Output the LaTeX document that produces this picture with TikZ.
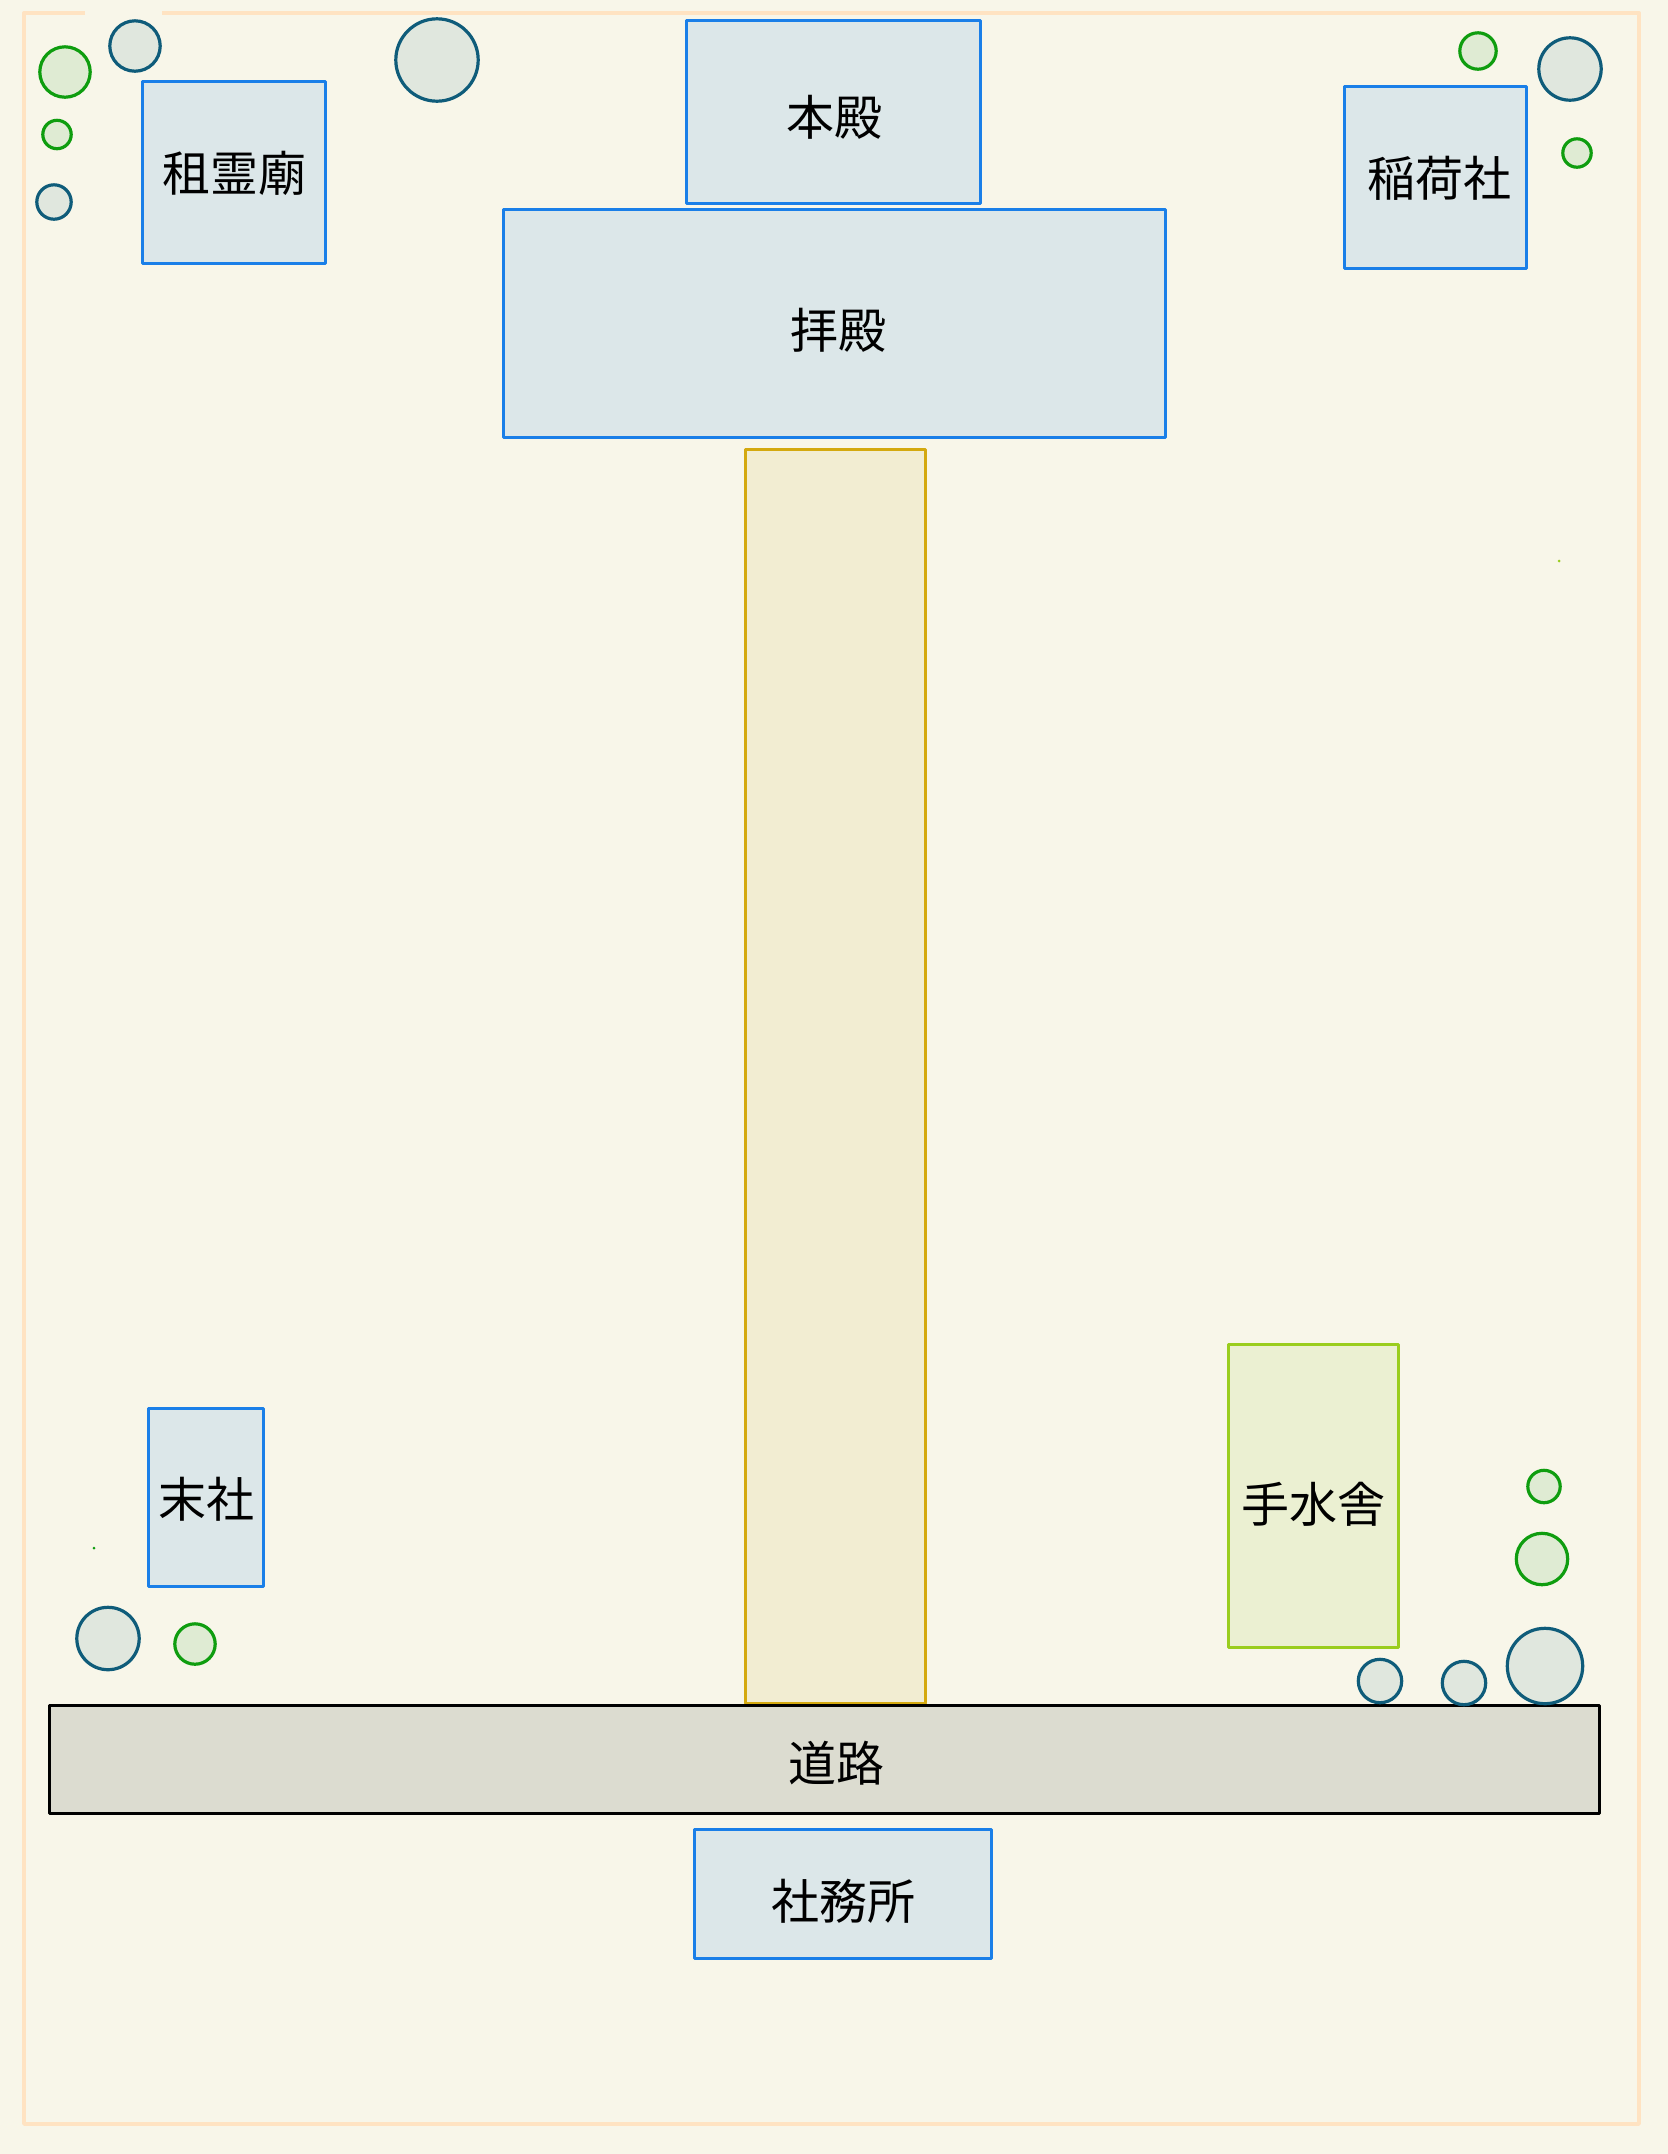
\documentclass[tikz,border=0pt]{standalone}
\usepackage{fontspec}
\setmainfont{Noto Sans CJK JP}
\definecolor{bgc}{HTML}{F8F6E9}
\definecolor{edgec}{HTML}{FFE3C2}
\definecolor{bluec}{HTML}{1A7FE8}
\definecolor{bluef}{HTML}{DCE7E9}
\definecolor{pathc}{HTML}{D4A90F}
\definecolor{pathf}{HTML}{F2EDD2}
\definecolor{limec}{HTML}{9ACD1E}
\definecolor{limef}{HTML}{EBF0D2}
\definecolor{roadf}{HTML}{DCDCD0}
\definecolor{greenc}{HTML}{0F9D0F}
\definecolor{greenf}{HTML}{DFEBD3}
\definecolor{tealc}{HTML}{0F5C7A}
\definecolor{tealf}{HTML}{DCE5DD}
\tikzset{
  x=0.5pt,y=-0.5pt,
  every node/.style={inner sep=0pt,outer sep=0pt},
  blk/.style={rectangle,line width=1.5pt,line join=round},
  hall/.style={blk,draw=bluec,fill=bluef},
  walkway/.style={blk,draw=pathc,fill=pathf},
  basin/.style={blk,draw=limec,fill=limef},
  road/.style={blk,draw=black,fill=roadf},
  lbl/.style={font=\fontsize{24pt}{28pt}\selectfont,text=black},
  treeg/.style={circle,draw=greenc,fill=greenf,line width=1.6pt},
  treet/.style={circle,draw=tealc,fill=tealf,fill opacity=0.85,line width=1.6pt},
}
\newcommand{\boxat}[6]{\node[#2,minimum width=#5*0.5pt,minimum height=#6*0.5pt] (#1) at ({#3+#5/2},{#4+#6/2}) {};}
\newcommand{\treeat}[5]{\node[#2,minimum size=#5*1pt] (#1) at (#3,#4) {};}
\begin{document}
\begin{tikzpicture}
\useasboundingbox (0,0) rectangle (1668,2154);
\fill[bgc] (0,0) rectangle (1668,2154);
\draw[edgec,line width=1.7pt,line join=round] (85,13) -- (24,13) -- (24,2124) -- (1639,2124) -- (1639,13) -- (162,13);
\boxat{walk}{walkway}{745}{449}{180}{1254}
\boxat{haiden}{hall}{503}{209}{662.5}{228}
\boxat{honden}{hall}{686}{20.5}{294.5}{182.8}
\boxat{sorei}{hall}{142.5}{81}{182.5}{182.5}
\boxat{inari}{hall}{1344}{86}{182.5}{182.5}
\boxat{massha}{hall}{148}{1408}{115.5}{178.5}
\boxat{chozu}{basin}{1228.8}{1344.5}{170}{303}
\boxat{doro}{road}{49.8}{1705.8}{1550}{107.7}
\boxat{shamusho}{hall}{694.8}{1829}{297}{129.5}
\node[lbl] (thonden) at (834,117.5) {本殿};
\node[lbl] (thaiden) at (838.5,330) {拝殿};
\node[lbl] (tsorei) at (234,173) {租霊廟};
\node[lbl] (tinari) at (1439.5,178.5) {稲荷社};
\node[lbl] (tmassha) at (206,1499.5) {末社};
\node[lbl] (tchozu) at (1313,1504.5) {手水舎};
\node[lbl] (tdoro) at (836,1763.5) {道路};
\node[lbl] (tshamusho) at (843,1901) {社務所};
\treeat{a1}{treeg}{65}{72}{25.2}
\treeat{a2}{treet}{135}{46}{25.2}
\treeat{a3}{treet}{437}{60}{41.2}
\treeat{a4}{treeg}{57}{134.5}{14.2}
\treeat{a5}{treet}{54}{202}{17.2}
\treeat{b1}{treeg}{1478}{51}{18.2}
\treeat{b2}{treet}{1570}{69}{31.2}
\treeat{b3}{treeg}{1577}{153}{14.2}
\treeat{c1}{treeg}{1544}{1486.5}{16.2}
\treeat{c2}{treeg}{1542}{1559}{25.7}
\treeat{c3}{treet}{1545}{1666}{37.7}
\treeat{c4}{treet}{1380}{1681}{21.7}
\treeat{c5}{treet}{1464}{1683}{21.7}
\treeat{d1}{treet}{108}{1638.5}{31.2}
\treeat{d2}{treeg}{195}{1644}{20.2}
\fill[greenc] (94,1548) circle (1.5);
\fill[limec] (1559,561) circle (1.5);
\end{tikzpicture}
\end{document}
